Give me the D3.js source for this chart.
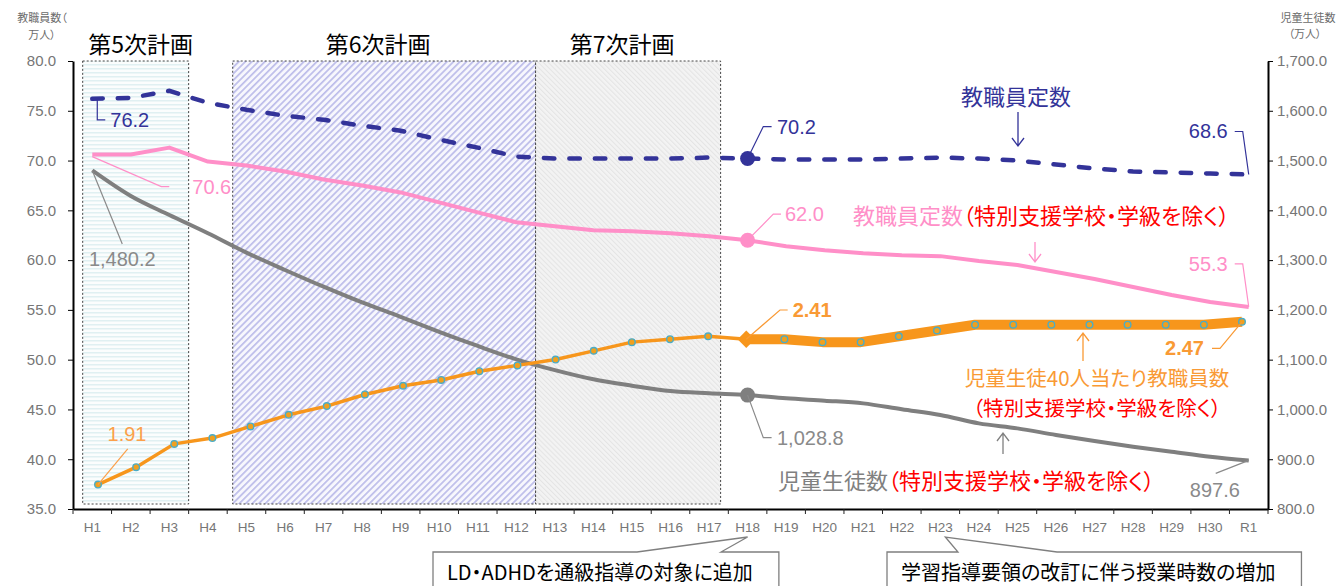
<!DOCTYPE html>
<html>
<head>
<meta charset="utf-8">
<script src="https://cdn.jsdelivr.net/npm/d3@7"></script>
<style>
  html, body { margin: 0; padding: 0; background: #fff; }
  svg { display: block; font-family: "Liberation Sans", Arial, sans-serif; }
  .jp { font-family: "Noto Sans CJK JP", "Noto Sans", sans-serif; font-feature-settings: "palt"; }
</style>
</head>
<body>
<svg id="chart" width="1341" height="586"></svg>
<script>
// Fiscal years (Heisei 1-30, Reiwa 1)
const categories = ["H1","H2","H3","H4","H5","H6","H7","H8","H9","H10","H11","H12","H13","H14","H15","H16","H17","H18","H19","H20","H21","H22","H23","H24","H25","H26","H27","H28","H29","H30","R1"];

// 教職員定数 (万人)
const staffTotal = [76.2,76.3,77.0,75.8,75.1,74.5,74.1,73.5,73.0,72.1,71.3,70.4,70.2,70.2,70.2,70.2,70.3,70.2,70.1,70.1,70.1,70.2,70.3,70.2,70.0,69.6,69.2,68.9,68.8,68.7,68.6];

// 教職員定数（特別支援学校・学級を除く）(万人)
const staffExclSpecial = [70.6,70.6,71.3,69.9,69.5,68.9,68.1,67.5,66.8,65.8,64.8,63.8,63.4,63.0,62.9,62.7,62.4,62.0,61.4,61.0,60.7,60.5,60.4,59.9,59.5,58.8,58.1,57.3,56.5,55.8,55.3];

// 児童生徒数（特別支援学校・学級を除く）(万人)
const pupilsExclSpecial = [1480.2,1428.8,1390.6,1353.9,1315.0,1280.2,1246.6,1215.0,1186.0,1156.0,1127.5,1100.7,1079.0,1060.6,1047.8,1037.0,1032.4,1028.8,1022.3,1017.6,1012.2,1000.2,988.8,972.0,962.0,948.7,936.6,925.2,915.2,905.1,897.6];

// 児童生徒40人当たり教職員数
const staffPer40 = [1.91,1.97,2.05,2.07,2.11,2.15,2.18,2.22,2.25,2.27,2.30,2.32,2.34,2.37,2.40,2.41,2.42,2.41,2.41,2.40,2.40,2.42,2.44,2.46,2.46,2.46,2.46,2.46,2.46,2.46,2.47];

const leftTicks = [35,40,45,50,55,60,65,70,75,80];
const rightTicks = [800,900,1000,1100,1200,1300,1400,1500,1600,1700];

// Improvement plans
const planNames = ["第5次計画","第6次計画","第7次計画"];
const planFrom = ["H1","H5","H13"];
const planTo = ["H3","H12","H17"];

// Policy notes
const noteTexts = ["LD・ADHDを通級指導の対象に追加","学習指導要領の改訂に伴う授業時数の増加"];
const noteYears = ["H18","H23"];

// ---------- layout ----------
const plot = { left: 73, right: 1268, top: 61, bottom: 509 };
const planInset = [[9.7, 0], [5.5, 0], [0, 7.7]];
const planLabelShift = [5, -6, -6];
const planPatterns = ["pat5", "pat6", "pat7"];

const svg = d3.select("#chart");
const defs = svg.append("defs");

// horizontal pale stripes
const p5 = defs.append("pattern").attr("id", "pat5").attr("patternUnits", "userSpaceOnUse")
  .attr("width", 6).attr("height", 4);
p5.append("rect").attr("width", 6).attr("height", 4).attr("fill", "#fbfdfd");
p5.append("rect").attr("y", 0).attr("width", 6).attr("height", 1.5).attr("fill", "#e0f0f2");

// lavender diagonal stripes
const p6 = defs.append("pattern").attr("id", "pat6").attr("patternUnits", "userSpaceOnUse")
  .attr("width", 4.6).attr("height", 8).attr("patternTransform", "rotate(45)");
p6.append("rect").attr("width", 4.6).attr("height", 8).attr("fill", "#f7f7fd");
p6.append("rect").attr("x", 0).attr("width", 1.7).attr("height", 8).attr("fill", "#bdbdea");

// light grey fine diagonal
const p7 = defs.append("pattern").attr("id", "pat7").attr("patternUnits", "userSpaceOnUse")
  .attr("width", 3.5).attr("height", 8).attr("patternTransform", "rotate(-45)");
p7.append("rect").attr("width", 3.5).attr("height", 8).attr("fill", "#f3f3f3");
p7.append("rect").attr("x", 0).attr("width", 1).attr("height", 8).attr("fill", "#e4e4e4");

// ---------- scales ----------
const xBand = d3.scaleBand().domain(categories).range([plot.left, plot.right]);
const xc = c => xBand(c) + xBand.bandwidth() / 2;
const xPt = d3.scalePoint().domain(categories).range([plot.left + 25, plot.right - 26]);
const yL = d3.scaleLinear().domain([35, 80]).range([plot.bottom, plot.top]);
const yR = d3.scaleLinear().domain([800, 1700]).range([plot.bottom, plot.top]);
const yRatio = d3.scaleLinear().domain([1.826, 3.367]).range([plot.bottom, plot.top]);

// ---------- plan boxes ----------
planNames.forEach((name, i) => {
  const x0 = xBand(planFrom[i]) + planInset[i][0];
  const x1 = xBand(planTo[i]) + xBand.bandwidth() - planInset[i][1];
  svg.append("rect")
    .attr("x", x0).attr("y", yL(80))
    .attr("width", x1 - x0).attr("height", yL(35) - 5 - yL(80))
    .attr("fill", `url(#${planPatterns[i]})`)
    .attr("stroke", "#444").attr("stroke-width", 1).attr("stroke-dasharray", "2,2");
  svg.append("text").attr("class", "jp")
    .attr("x", (x0 + x1) / 2 + planLabelShift[i]).attr("y", 43)
    .attr("text-anchor", "middle").attr("dominant-baseline", "central")
    .attr("font-size", 23).attr("fill", "#000").text(name);
});

// ---------- axes ----------
const axisColor = "#767676";
const gL = svg.append("g").attr("transform", `translate(${plot.left},0)`)
  .call(d3.axisLeft(yL).tickValues(leftTicks).tickFormat(d3.format(".1f"))
    .tickSize(5).tickSizeOuter(0).tickPadding(12));
const gR = svg.append("g").attr("transform", `translate(${plot.right},0)`)
  .call(d3.axisRight(yR).tickValues(rightTicks).tickFormat(d3.format(",.1f"))
    .tickSize(5).tickSizeOuter(0).tickPadding(4));
const gX = svg.append("g").attr("transform", `translate(0,${plot.bottom})`)
  .call(d3.axisBottom(xBand).tickSize(0).tickSizeOuter(0).tickPadding(13));
[gL, gR].forEach(g => {
  g.select(".domain").attr("stroke", "#000").attr("stroke-width", 2);
  g.selectAll(".tick line").attr("stroke", "#000").attr("stroke-width", 1);
  g.selectAll(".tick text").attr("font-size", 15).attr("fill", axisColor)
    .attr("font-family", "Liberation Sans, Arial, sans-serif");
});
gX.select(".domain").attr("stroke", "#000").attr("stroke-width", 2);
gX.selectAll(".tick text").attr("font-size", 13.5).attr("fill", axisColor)
  .attr("font-family", "Liberation Sans, Arial, sans-serif");
// boundary ticks between categories
gX.selectAll(".bticks").data(d3.range(categories.length + 1)).join("line")
  .attr("x1", i => plot.left + i * xBand.step()).attr("x2", i => plot.left + i * xBand.step())
  .attr("y1", 0).attr("y2", 5).attr("stroke", "#222").attr("stroke-width", 1);

// axis titles
const titleL = svg.append("text").attr("class", "jp").attr("text-anchor", "middle")
  .attr("font-size", 11).attr("fill", "#6b6b6b").attr("dominant-baseline", "central");
titleL.append("tspan").attr("x", 42).attr("y", 17).text("教職員数（");
titleL.append("tspan").attr("x", 42).attr("y", 33.5).text("万人）");
const titleR = svg.append("text").attr("class", "jp").attr("text-anchor", "middle")
  .attr("font-size", 11).attr("fill", "#6b6b6b").attr("dominant-baseline", "central");
titleR.append("tspan").attr("x", 1308).attr("y", 16.5).text("児童生徒数");
titleR.append("tspan").attr("x", 1305).attr("y", 33).text("（万人）");

// ---------- series ----------
const colBlue = "#333399", colPink = "#ff8fc8", colGray = "#7f7f7f",
      colOrange = "#f7961c", colOrangeText = "#f99a35", colRed = "#ff0000";

const iH18 = categories.indexOf("H18");

// staff total, dashed
svg.append("path")
  .attr("d", d3.line().x((d, i) => xc(categories[i])).y(d => yL(d))(staffTotal))
  .attr("fill", "none").attr("stroke", colBlue).attr("stroke-width", 4.5)
  .attr("stroke-dasharray", "10.5,15").attr("stroke-linecap", "round");

// staff excluding special schools
svg.append("path")
  .attr("d", d3.line().x((d, i) => xc(categories[i])).y(d => yL(d))(staffExclSpecial))
  .attr("fill", "none").attr("stroke", colPink).attr("stroke-width", 4)
  .attr("stroke-linejoin", "round");

// pupils
svg.append("path")
  .attr("d", d3.line().x((d, i) => xc(categories[i])).y(d => yR(d)).curve(d3.curveMonotoneX)(pupilsExclSpecial))
  .attr("fill", "none").attr("stroke", colGray).attr("stroke-width", 4)
  .attr("stroke-linejoin", "round");

// staff per 40 pupils: thin up to H18, thick afterwards
const ratioLine = d3.line().x(d => xPt(d.c)).y(d => yRatio(d.v));
const ratioPts = staffPer40.map((v, i) => ({ c: categories[i], v, i }));
svg.append("path").attr("d", ratioLine(ratioPts.slice(0, iH18 + 1)))
  .attr("fill", "none").attr("stroke", colOrange).attr("stroke-width", 3.5).attr("stroke-linejoin", "round");
svg.append("path").attr("d", ratioLine(ratioPts.slice(iH18)))
  .attr("fill", "none").attr("stroke", colOrange).attr("stroke-width", 10).attr("stroke-linejoin", "round");
svg.selectAll(".rm").data(ratioPts.filter(d => d.i !== iH18)).join("circle")
  .attr("cx", d => xPt(d.c)).attr("cy", d => yRatio(d.v)).attr("r", 3.3)
  .attr("fill", "#f0a01e").attr("stroke", "#4bacc6").attr("stroke-width", 1.4);
svg.append("path")
  .attr("d", d3.symbol(d3.symbolSquare, 150)())
  .attr("transform", `translate(${xPt("H18")},${yRatio(staffPer40[iH18])}) rotate(45)`)
  .attr("fill", colOrange);

// highlighted H18 points
svg.append("circle").attr("cx", xc("H18")).attr("cy", yL(staffTotal[iH18])).attr("r", 7.5).attr("fill", colBlue);
svg.append("circle").attr("cx", xc("H18")).attr("cy", yL(staffExclSpecial[iH18])).attr("r", 7.5).attr("fill", colPink);
svg.append("circle").attr("cx", xc("H18")).attr("cy", yR(pupilsExclSpecial[iH18])).attr("r", 7.5).attr("fill", colGray);

// ---------- value labels ----------
function valueLabel(px, py, leader, tx, ty, anchor, text, color, opts = {}) {
  svg.append("path")
    .attr("d", d3.line()(leader.map(([dx, dy]) => [px + dx, py + dy])))
    .attr("fill", "none").attr("stroke", opts.lineColor || color).attr("stroke-width", 1.2);
  svg.append("text").attr("x", px + tx).attr("y", py + ty)
    .attr("text-anchor", anchor).attr("dominant-baseline", "central")
    .attr("font-size", 20).attr("font-weight", opts.bold ? "bold" : "normal")
    .attr("fill", color).text(text);
}
const iR1 = categories.length - 1;
const f1 = d3.format(".1f"), fC = d3.format(",.1f"), f2 = d3.format(".2f");

valueLabel(xc("H1"), yL(staffTotal[0]), [[5, 1], [5, 21], [13, 21]], 18, 21, "start", f1(staffTotal[0]), colBlue);
valueLabel(xc("H1"), yL(staffExclSpecial[0]), [[0, 2], [69, 32], [77, 32]], 100, 32, "start", f1(staffExclSpecial[0]), colPink);
valueLabel(xc("H1"), yR(pupilsExclSpecial[0]), [[0, 0], [30, 73.6]], 30, 89, "middle", fC(pupilsExclSpecial[0]), "#8a8a8a", { lineColor: "#8a8a8a" });
valueLabel(xPt("H1"), yRatio(staffPer40[0]), [[0, 0], [29.7, -35.7]], 29, -51, "middle", f2(staffPer40[0]), "#fba04a");

valueLabel(xc("H18"), yL(staffTotal[iH18]), [[0, 0], [15.7, -32], [24, -32]], 29.4, -32, "start", f1(staffTotal[iH18]), colBlue);
valueLabel(xc("H18"), yL(staffExclSpecial[iH18]), [[0, 0], [25.7, -26], [33.4, -26]], 37.4, -26, "start", f1(staffExclSpecial[iH18]), colPink);
valueLabel(xPt("H18"), yRatio(staffPer40[iH18]), [[0, 0], [33.7, -29.2], [41.4, -29.2]], 46.4, -29.2, "start", f2(staffPer40[iH18]), colOrangeText, { bold: true });
valueLabel(xc("H18"), yR(pupilsExclSpecial[iH18]), [[0, 0], [15.7, 42.6], [24, 42.6]], 29.4, 42.6, "start", fC(pupilsExclSpecial[iH18]), "#8a8a8a", { lineColor: "#8a8a8a" });

valueLabel(xc("R1"), yL(staffTotal[iR1]), [[0, 0], [-6, -43], [-14, -43]], -21, -43, "end", f1(staffTotal[iR1]), colBlue);
valueLabel(xc("R1"), yL(staffExclSpecial[iR1]), [[0, 0], [-6, -43], [-14, -43]], -21, -43, "end", f1(staffExclSpecial[iR1]), colPink);
valueLabel(xPt("R1"), yRatio(staffPer40[iR1]), [[0, 0], [-22, 26.5], [-30, 26.5]], -38, 26.5, "end", f2(staffPer40[iR1]), colOrangeText, { bold: true });
valueLabel(xc("R1"), yR(pupilsExclSpecial[iR1]), [[0, 0], [-33, 12.9]], -8.8, 30, "end", fC(pupilsExclSpecial[iR1]), "#8a8a8a", { lineColor: "#8a8a8a" });

// ---------- series names with arrows ----------
function seriesName(x, y, parts, anchor, size = 22) {
  const t = svg.append("text").attr("class", "jp").attr("x", x).attr("y", y)
    .attr("text-anchor", anchor).attr("dominant-baseline", "central").attr("font-size", size);
  parts.forEach(([s, c]) => t.append("tspan").attr("fill", c).text(s));
}
function arrow(x, y0, y1, color) {
  const dir = y1 > y0 ? 1 : -1;
  svg.append("path")
    .attr("d", `M${x},${y0}L${x},${y1}M${x - 6},${y1 - dir * 8}L${x},${y1}L${x + 6},${y1 - dir * 8}`)
    .attr("fill", "none").attr("stroke", color).attr("stroke-width", 1.3);
}
seriesName(961, 95, [["教職員定数", colBlue]], "start");
arrow(1018, 112, 146, colBlue);

seriesName(853, 214, [["教職員定数", colPink], ["（特別支援学校・学級を除く）", colRed]], "start");
arrow(1035, 242, 262, colPink);

seriesName(1097, 377, [["児童生徒40人当たり教職員数", colOrangeText]], "middle", 20.5);
seriesName(1097, 407, [["（特別支援学校・学級を除く）", colRed]], "middle", 20.5);
arrow(1083, 361, 333, colOrangeText);

seriesName(778, 479, [["児童生徒数", "#808080"], ["（特別支援学校・学級を除く）", colRed]], "start");
arrow(1003, 454, 433, "#808080");

// ---------- policy note callouts ----------
const noteBoxLeft = [433, 887];
const noteTail = [[637, 721], [958, 1057]];
noteTexts.forEach((txt, i) => {
  const g = svg.append("g");
  const tipX = xc(noteYears[i]) + (i === 1 ? 5 : 0);
  const text = g.append("text").attr("class", "jp")
    .attr("x", noteBoxLeft[i] + 14).attr("y", 571)
    .attr("dominant-baseline", "central").attr("font-size", 20).attr("fill", "#000").text(txt);
  const w = text.node().getComputedTextLength();
  const x0 = noteBoxLeft[i], x1 = x0 + w + 40, top = 552, bottom = 600;
  g.insert("path", "text")
    .attr("d", `M${x0},${top}L${noteTail[i][0]},${top}L${tipX},537L${noteTail[i][1]},${top}L${x1},${top}L${x1},${bottom}L${x0},${bottom}Z`)
    .attr("fill", "#fff").attr("stroke", "#7f7f7f").attr("stroke-width", 1.3);
});
</script>
</body>
</html>
